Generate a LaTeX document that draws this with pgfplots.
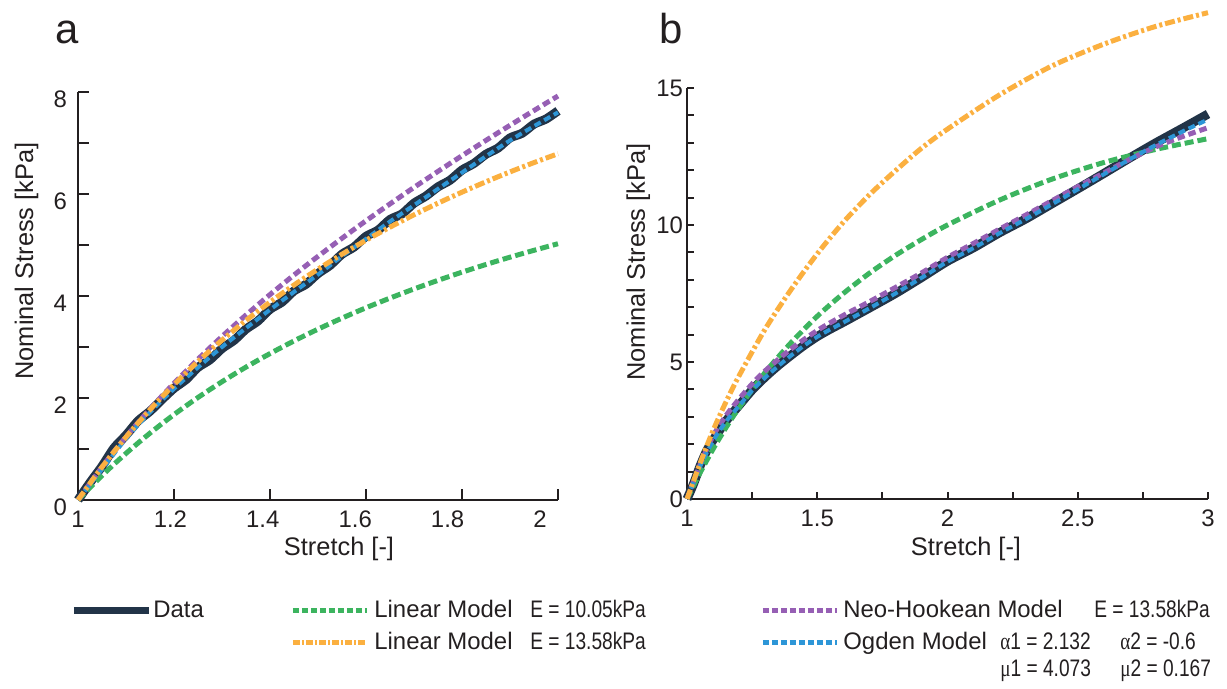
\documentclass[border=0pt]{standalone}
\usepackage{graphicx}
\usepackage{pgfplots}
\pgfplotsset{compat=1.18}
\usepackage{fontspec}
\setmainfont{Liberation Sans}
\newfontfamily\greekfont{Liberation Serif}
\definecolor{ax}{RGB}{35,31,32}
\definecolor{navy}{RGB}{34,52,72}
\definecolor{mgreen}{RGB}{60,180,95}
\definecolor{morange}{RGB}{251,176,64}
\definecolor{mpurple}{RGB}{150,95,180}
\definecolor{mblue}{RGB}{45,150,215}
\newcommand{\px}[2]{({#1*0.5bp},{(689-#2)*0.5bp})}
\newcommand{\cond}[1]{\scalebox{0.8}[1]{#1}}
\pgfplotsset{
  panel/.style={scale only axis, anchor=south west,
    axis x line*=bottom, axis y line*=left, tick align=inside,
    axis line style={ax, line width=1bp},
    every tick/.style={ax, line width=1bp},
    tick label style={font=\fontsize{12}{14}\selectfont, text=ax},
    xticklabel style={yshift=-2bp},
    clip=false},
  datastyle/.style={navy, line width=4.5bp, line join=round, smooth, tension=0.4},
  greenstyle/.style={mgreen, line width=2.5bp, dash pattern=on 4.5bp off 2bp, smooth},
  purplestyle/.style={mpurple, line width=2.5bp, dash pattern=on 3.8bp off 2bp, smooth},
  bluestyle/.style={mblue, line width=2bp, dash pattern=on 3.5bp off 2bp, smooth},
  orangestyle/.style={morange, line width=2.5bp, dash pattern=on 5bp off 1.5bp on 1.5bp off 1.5bp, smooth},
}
\begin{document}
\begin{tikzpicture}
\path[use as bounding box] (0,0) rectangle (613.5bp,344.5bp);
% ---------------- panel a
\begin{axis}[panel, at={(39bp,94.5bp)}, width=240bp, height=204bp,
  xmin=1, xmax=2, ymin=0, ymax=8,
  major tick length=5.5bp, minor tick length=5.5bp,
  xtick={1,1.2,1.4,1.6,1.8,2}, xticklabels={,,,,,},
  extra x ticks={1,1.1925,1.385,1.5775,1.77,1.9625},
  extra x tick labels={1,1.2,1.4,1.6,1.8,2},
  extra x tick style={major tick length=0pt},
  ytick={0,2,4,6,8}, yticklabels={0,2,4,6,8},
  minor ytick={1,3,5,7},
  yticklabel style={xshift=-2bp, yshift=-3.5bp}]
\addplot[datastyle] coordinates {
(1.000,0.00) (1.025,0.34) (1.050,0.66) (1.075,1.02) (1.100,1.27) (1.125,1.55)
(1.150,1.74) (1.175,1.97) (1.200,2.19) (1.225,2.36) (1.250,2.60) (1.275,2.75)
(1.300,2.97) (1.325,3.13) (1.350,3.35) (1.375,3.51) (1.400,3.74) (1.425,3.88)
(1.450,4.10) (1.475,4.23) (1.500,4.44) (1.525,4.60) (1.550,4.82) (1.575,4.96)
(1.600,5.17) (1.625,5.29) (1.650,5.50) (1.675,5.61) (1.700,5.82) (1.725,5.96)
(1.750,6.14) (1.775,6.27) (1.800,6.47) (1.825,6.60) (1.850,6.78) (1.875,6.90)
(1.900,7.10) (1.925,7.19) (1.950,7.37) (1.975,7.47) (2.000,7.63)};
\addplot[greenstyle] coordinates {
(1.00,0) (1.05,0.479) (1.10,0.914) (1.15,1.311) (1.20,1.675) (1.25,2.010)
(1.30,2.319) (1.35,2.606) (1.40,2.871) (1.45,3.119) (1.50,3.350) (1.55,3.566)
(1.60,3.769) (1.65,3.959) (1.70,4.138) (1.75,4.307) (1.80,4.467) (1.85,4.618)
(1.90,4.761) (1.95,4.896) (2.00,5.025)};
\addplot[purplestyle] coordinates {
(1.00,0) (1.05,0.647) (1.10,1.238) (1.15,1.783) (1.20,2.289) (1.25,2.761)
(1.30,3.206) (1.35,3.627) (1.40,4.028) (1.45,4.411) (1.50,4.778) (1.55,5.132)
(1.60,5.475) (1.65,5.806) (1.70,6.129) (1.75,6.444) (1.80,6.751) (1.85,7.052)
(1.90,7.347) (1.95,7.637) (2.00,7.922)};
\addplot[bluestyle] coordinates {
(1.00,0) (1.05,0.60) (1.10,1.20) (1.15,1.72) (1.20,2.18) (1.25,2.60)
(1.30,3.00) (1.35,3.37) (1.40,3.73) (1.45,4.08) (1.50,4.42) (1.55,4.78)
(1.60,5.12) (1.65,5.46) (1.70,5.78) (1.75,6.10) (1.80,6.42) (1.85,6.74)
(1.90,7.05) (1.95,7.33) (2.00,7.60)};
\addplot[orangestyle] coordinates {
(1.00,0) (1.05,0.647) (1.10,1.235) (1.15,1.771) (1.20,2.263) (1.25,2.716)
(1.30,3.134) (1.35,3.521) (1.40,3.880) (1.45,4.215) (1.50,4.527) (1.55,4.819)
(1.60,5.093) (1.65,5.350) (1.70,5.592) (1.75,5.820) (1.80,6.036) (1.85,6.240)
(1.90,6.433) (1.95,6.616) (2.00,6.790)};
\end{axis}
% ---------------- panel b
\begin{axis}[panel, at={(343.5bp,95bp)}, width=260.5bp, height=205.5bp,
  xmin=1, xmax=3, ymin=0, ymax=15,
  major tick length=3.5bp, minor tick length=3.5bp,
  xtick={1,1.5,2,2.5,3}, xticklabels={1,1.5,2,2.5,3},
  minor xtick={1.25,1.75,2.25,2.75},
  ytick={0,5,10,15}, yticklabels={0,5,10,15},
  minor ytick={1,2,3,4,6,7,8,9,11,12,13,14},
  yticklabel style={xshift=1.5bp}]
\addplot[datastyle] coordinates {
(1.000,0) (1.025,0.55) (1.050,1.20) (1.075,1.75) (1.10,2.15) (1.15,2.85)
(1.20,3.42) (1.25,3.98) (1.30,4.45) (1.35,4.87) (1.40,5.25) (1.45,5.61)
(1.50,5.93) (1.55,6.20) (1.60,6.45) (1.70,6.97) (1.80,7.50) (1.90,8.08) (2.00,8.68)
(2.10,9.17) (2.20,9.72) (2.30,10.22) (2.40,10.77) (2.50,11.32) (2.60,11.88)
(2.70,12.45) (2.80,13.00) (2.90,13.52) (3.00,14.05)};
\addplot[greenstyle] coordinates {
(1.00,0) (1.05,0.95) (1.10,1.82) (1.15,2.61) (1.20,3.33) (1.30,4.62)
(1.40,5.71) (1.50,6.67) (1.60,7.50) (1.70,8.24) (1.80,8.89) (1.90,9.47)
(2.00,10.00) (2.20,10.91) (2.40,11.67) (2.60,12.28) (2.80,12.76) (3.00,13.15)};
\addplot[purplestyle] coordinates {
(1.00,0) (1.05,1.25) (1.10,2.30) (1.15,3.05) (1.20,3.65) (1.25,4.20)
(1.30,4.68) (1.40,5.48) (1.50,6.15) (1.60,6.70) (1.70,7.20) (1.80,7.72)
(1.90,8.25) (2.00,8.82) (2.10,9.33) (2.20,9.85) (2.30,10.36) (2.40,10.88)
(2.50,11.40) (2.60,11.90) (2.70,12.40) (2.80,12.85) (2.90,13.22) (3.00,13.55)};
\addplot[bluestyle] coordinates {
(1.000,0) (1.05,1.18) (1.10,2.12) (1.15,2.83) (1.20,3.40) (1.25,3.96)
(1.30,4.43) (1.35,4.85) (1.40,5.24) (1.45,5.60) (1.50,5.92) (1.55,6.19) (1.60,6.44) (1.70,6.96)
(1.80,7.50) (1.90,8.07) (2.00,8.66) (2.10,9.16) (2.20,9.70) (2.30,10.21)
(2.40,10.75) (2.50,11.30) (2.60,11.85) (2.70,12.40) (2.80,12.92) (2.90,13.40)
(3.00,13.85)};
\addplot[orangestyle] coordinates {
(1.00,0) (1.05,1.30) (1.10,2.50) (1.15,3.55) (1.20,4.50) (1.30,6.20)
(1.40,7.65) (1.50,8.95) (1.60,10.10) (1.70,11.10) (1.80,11.98) (1.90,12.80)
(2.00,13.50) (2.20,14.75) (2.40,15.80) (2.60,16.60) (2.80,17.25) (3.00,17.75)};
\end{axis}
% ---------------- labels
\begin{scope}[every node/.style={inner sep=0pt, text=ax}]
\node[anchor=base west, font=\fontsize{21}{24}\selectfont] at \px{55}{43} {a};
\node[anchor=base west, font=\fontsize{21}{24}\selectfont] at \px{659}{43} {b};
\node[anchor=base, font=\fontsize{12.75}{15}\selectfont] at \px{339}{555} {Stretch [-]};
\node[anchor=base, font=\fontsize{12.75}{15}\selectfont] at \px{966}{555} {Stretch [-]};
\node[anchor=base, rotate=90, font=\fontsize{12.75}{15}\selectfont] at \px{33}{261} {Nominal Stress [kPa]};
\node[anchor=base, rotate=90, font=\fontsize{12.75}{15}\selectfont] at \px{645}{262} {Nominal Stress [kPa]};
% legend swatches
\draw[navy, line width=3.5bp] \px{74}{610} -- \px{149}{610};
\draw[mgreen, line width=2.5bp, dash pattern=on 3bp off 1.5bp] \px{293}{610} -- \px{367}{610};
\draw[morange, line width=2.5bp, dash pattern=on 3.5bp off 1bp on 1bp off 1bp] \px{293}{642} -- \px{367}{642};
\draw[mpurple, line width=2.5bp, dash pattern=on 3bp off 1.5bp] \px{763}{610} -- \px{837}{610};
\draw[mblue, line width=2.5bp, dash pattern=on 3bp off 1.5bp] \px{763}{642} -- \px{837}{642};
% legend texts
\begin{scope}[every node/.append style={anchor=base west, font=\fontsize{12}{14}\selectfont}]
\node at \px{153}{617} {Data};
\node at \px{374}{617} {Linear Model};
\node at \px{374}{649} {Linear Model};
\node at \px{843}{617} {Neo-Hookean Model};
\node at \px{843}{649} {Ogden Model};
\node at \px{530}{617} {\cond{E = 10.05kPa}};
\node at \px{530}{649} {\cond{E = 13.58kPa}};
\node at \px{1094}{617} {\cond{E = 13.58kPa}};
\node at \px{1000}{649} {\cond{{\greekfont α}1 = 2.132}};
\node at \px{1120}{649} {\cond{{\greekfont α}2 = -0.6}};
\node at \px{1000}{676} {\cond{{\greekfont μ}1 = 4.073}};
\node at \px{1120}{676} {\cond{{\greekfont μ}2 = 0.167}};
\end{scope}
\end{scope}
\end{tikzpicture}
\end{document}
